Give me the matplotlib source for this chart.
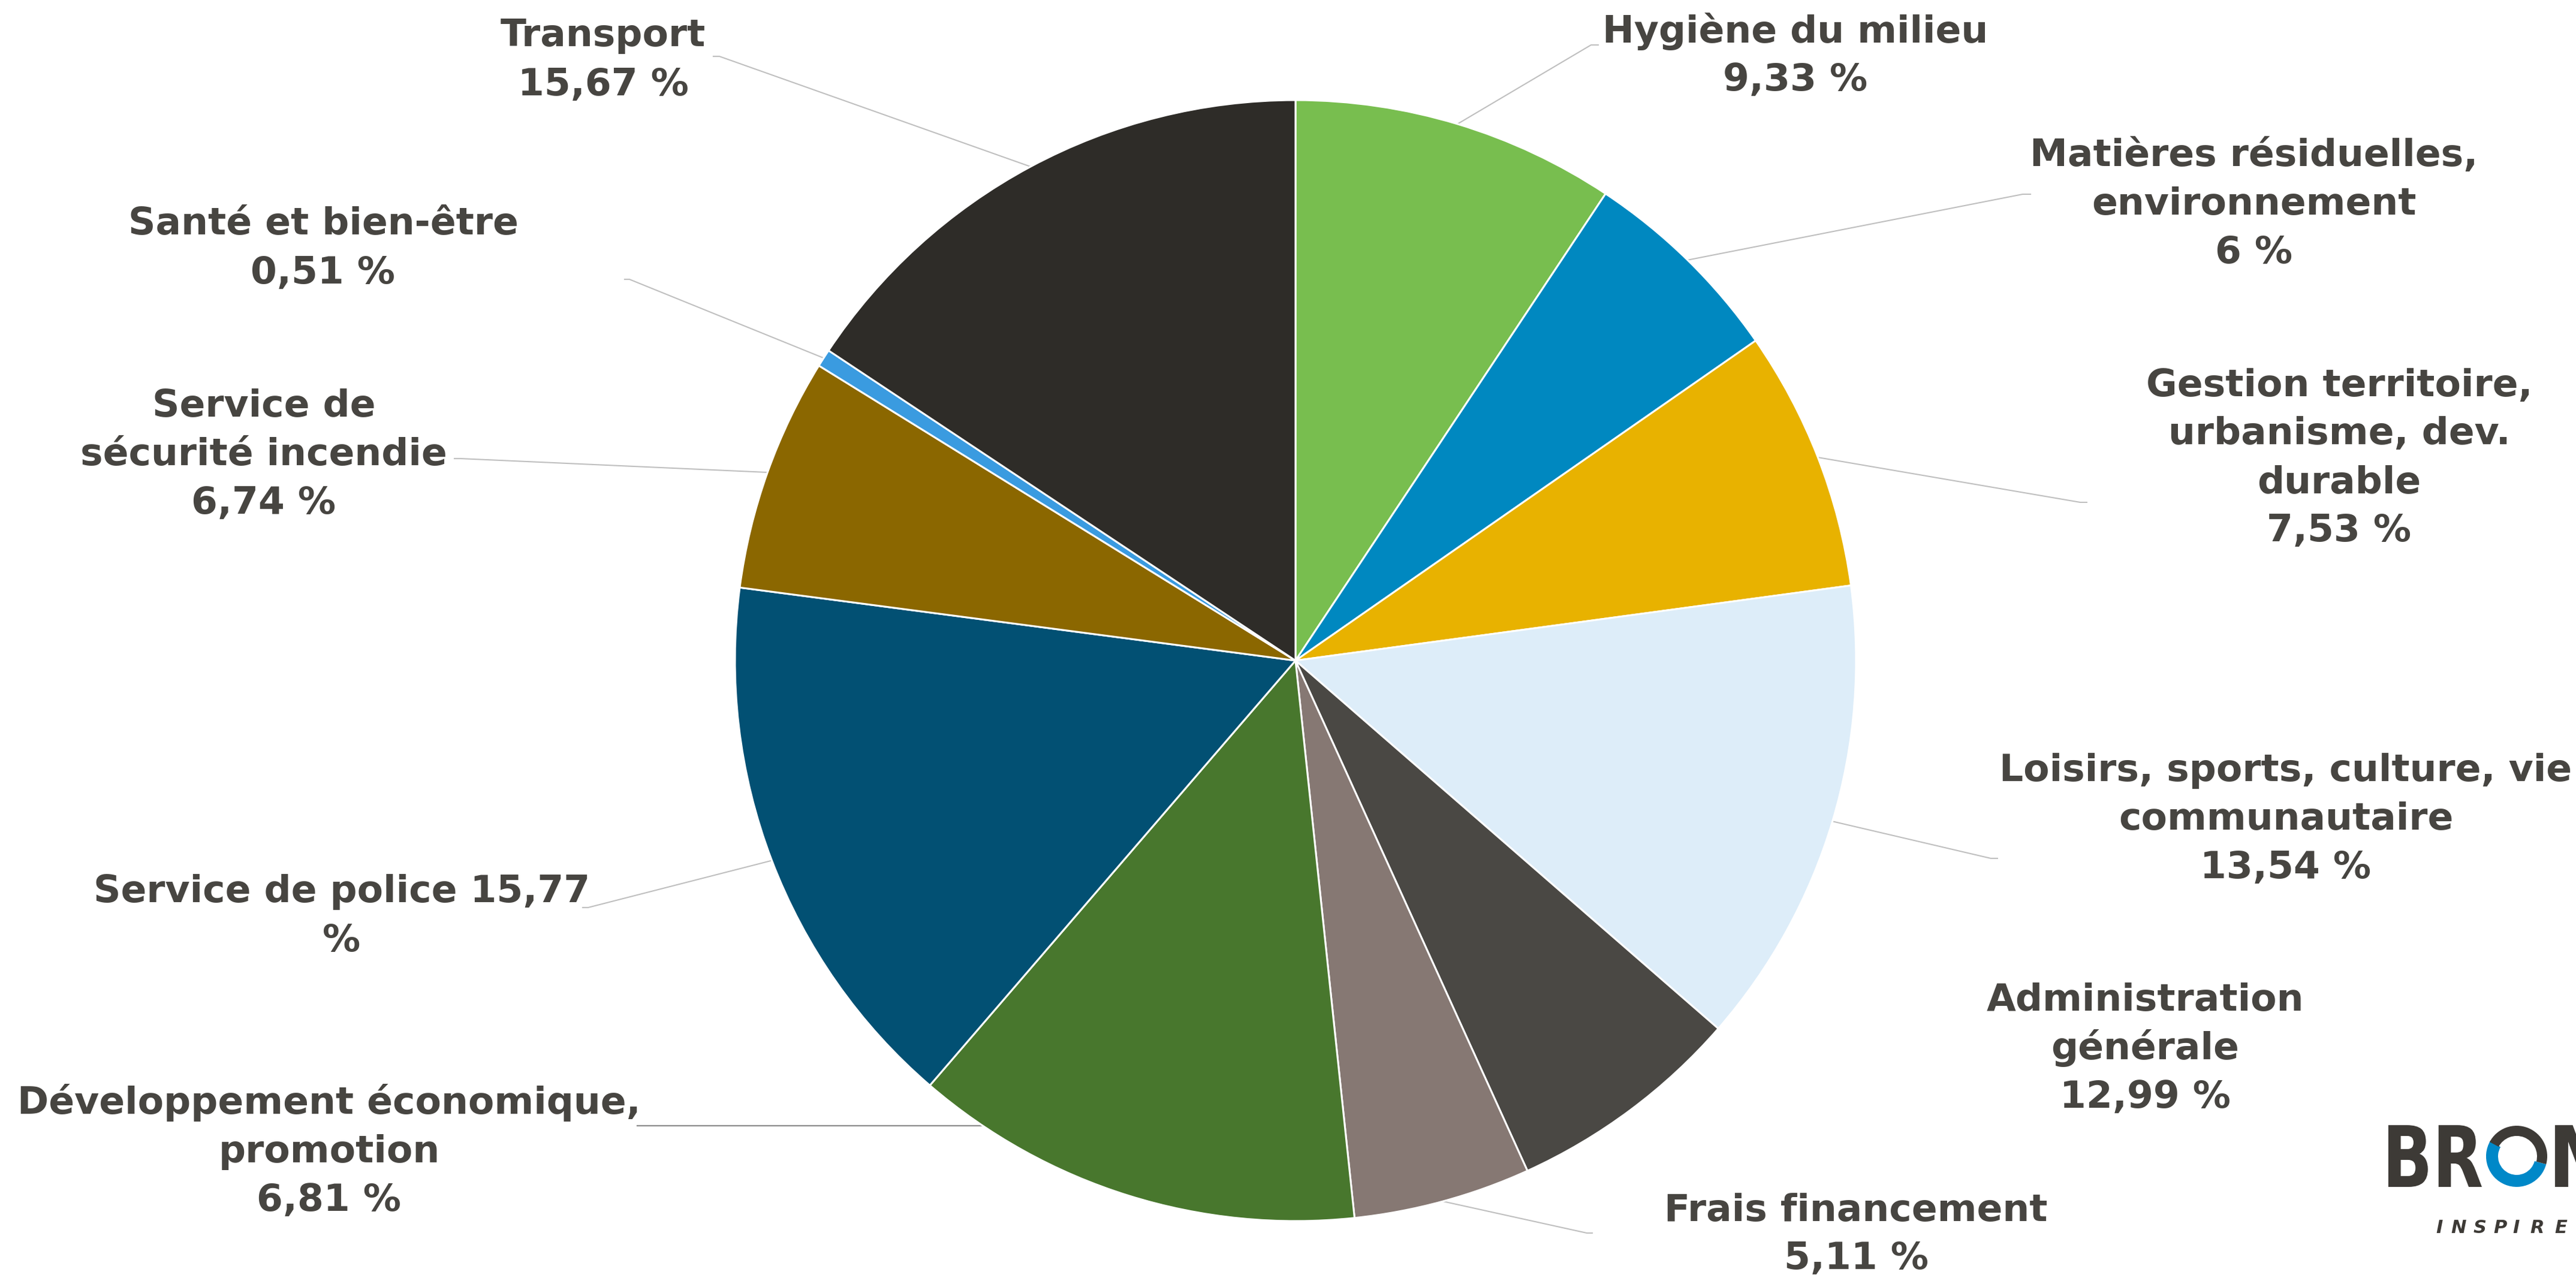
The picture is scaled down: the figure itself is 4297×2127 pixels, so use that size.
import matplotlib
matplotlib.use("Agg")
import numpy as np
import matplotlib.pyplot as plt
from matplotlib.patches import Wedge, PathPatch
from matplotlib.textpath import TextPath
from matplotlib.font_manager import FontProperties
from matplotlib.transforms import Affine2D

# ---------------- data ----------------
categories = [
    "Hygiène du milieu",
    "Matières résiduelles,\nenvironnement",
    "Gestion territoire,\nurbanisme, dev.\ndurable",
    "Loisirs, sports, culture, vie\ncommunautaire",
    "Développement économique,\npromotion",
    "Frais financement",
    "Administration\ngénérale",
    "Service de police",
    "Service de\nsécurité incendie",
    "Santé et bien-être",
    "Transport",
]
values = [9.33, 6, 7.53, 13.54, 6.81, 5.11, 12.99, 15.77, 6.74, 0.51, 15.67]
colors = ["#78BE4F", "#0088C0", "#E8B200", "#DDEDF9", "#4A4844", "#867873",
          "#48772D", "#025073", "#8B6700", "#3A9BE0", "#2E2C28"]


def fmt(v):
    return f"{v:g}".replace(".", ",") + " %"


# ---------------- layout (image pixels, y down) ----------------
W, H = 4297, 2127
DPI = 100
CX, CY, R = 2161, 1102, 935
TEXT_COLOR = "#474541"
LINE_COLOR = "#BFBFBF"
FONT = ["DejaVu Sans"]
PITCH = 81
CAP = 44
REF_TEXT, REF_WIDTH = "Développement économique,", 1038

# label block centres
label_pos = {
    0: (2995, 89), 1: (3760, 336), 2: (3902, 760), 3: (3813, 1362),
    4: (549, 1917), 5: (3096, 2055), 6: (3578, 1745), 7: (570, 1524),
    8: (440, 754), 9: (539, 410), 10: (1006, 96),
}
# short horizontal tick of each leader line: (x_label_side, x_pie_side, y)
leader_ticks = {
    0: (2667, 2654, 75), 1: (3388, 3374, 324), 2: (3482, 3470, 838),
    3: (3333, 3321, 1432), 5: (2657, 2647, 2057), 7: (971, 981, 1514),
    8: (757, 768, 765), 9: (1041, 1050, 466), 10: (1189, 1200, 94),
}
horizontal_leaders = {4: (1063, 1878)}

fig = plt.figure(figsize=(W / DPI, H / DPI), dpi=DPI)
ax = fig.add_axes([0, 0, 1, 1])

wedges, _ = ax.pie(values, colors=colors, startangle=90, counterclock=False,
                   radius=R, center=(CX, H - CY), frame=True,
                   wedgeprops=dict(edgecolor="white", linewidth=2.2))
ax.set_xlim(0, W)
ax.set_ylim(0, H)
ax.set_aspect("auto")
ax.axis("off")

# fit the label font size to the reference width
renderer = fig.canvas.get_renderer()
probe = ax.text(0, 0, REF_TEXT, fontsize=40, fontweight="bold", family=FONT)
pw = probe.get_window_extent(renderer).width
probe.remove()
FS = 40 * REF_WIDTH / pw

# leader lines
for i, (xa, xb, y) in leader_ticks.items():
    w = wedges[i]
    th = np.deg2rad((w.theta1 + w.theta2) / 2)
    ex = w.center[0] + w.r * np.cos(th)
    ey = w.center[1] + w.r * np.sin(th)
    ax.plot([xa, xb, ex], [H - y, H - y, ey], color=LINE_COLOR, lw=1.5,
            zorder=0.5, solid_capstyle="butt")
for i, (xa, y) in horizontal_leaders.items():
    w = wedges[i]
    dy = (H - y) - w.center[1]
    ex = w.center[0] - np.sqrt(w.r ** 2 - dy ** 2)
    ax.plot([xa, ex], [H - y, H - y], color="#8C8C8C", lw=1.6, zorder=0.5)

# labels
for i, name in enumerate(categories):
    if i == 7:
        text = name + " " + fmt(values[i]).replace(" %", "\n%")
    else:
        text = name + "\n" + fmt(values[i])
    lines = text.split("\n")
    n = len(lines)
    x, yc = label_pos[i]
    for k, line in enumerate(lines):
        ymid = yc + (k - (n - 1) / 2) * PITCH
        ax.text(x, H - (ymid + CAP / 2), line, ha="center", va="baseline",
                fontsize=FS, fontweight="bold", family=FONT, color=TEXT_COLOR)

# ---------------- logo ----------------
LOGO_DARK = "#3D3A36"
LOGO_BLUE = "#0088C8"


def path_in_box(s, x0, x1, ytop, ybot, color):
    tp = TextPath((0, 0), s, size=100,
                  prop=FontProperties(family="DejaVu Sans", weight="bold"))
    bb = tp.get_extents()
    sx = (x1 - x0) / bb.width
    sy = (ybot - ytop) / bb.height
    tr = Affine2D().translate(-bb.x0, -bb.y0).scale(sx, sy).translate(x0, H - ybot)
    ax.add_patch(PathPatch(tr.transform_path(tp), fc=color, ec="none", lw=0))


path_in_box("BR", 3984, 4140, 1877, 1980, LOGO_DARK)
path_in_box("M", 4262, 4362, 1877, 1980, LOGO_DARK)
ox, oy = 4198, H - 1929
ax.add_patch(Wedge((ox, oy), 51, 150, 345, width=20, fc=LOGO_BLUE, ec="none"))
ax.add_patch(Wedge((ox, oy), 51, -15, 152, width=17, fc=LOGO_DARK, ec="none"))
for ch, xc in zip("INSPIRE", [4069, 4101, 4137, 4171, 4197, 4232, 4272]):
    ax.text(xc, H - 2057, ch, ha="center", va="baseline", fontsize=22,
            fontweight="bold", fontstyle="italic", family=FONT, color=LOGO_DARK)

fig.savefig("out.png", dpi=DPI, facecolor="white")
